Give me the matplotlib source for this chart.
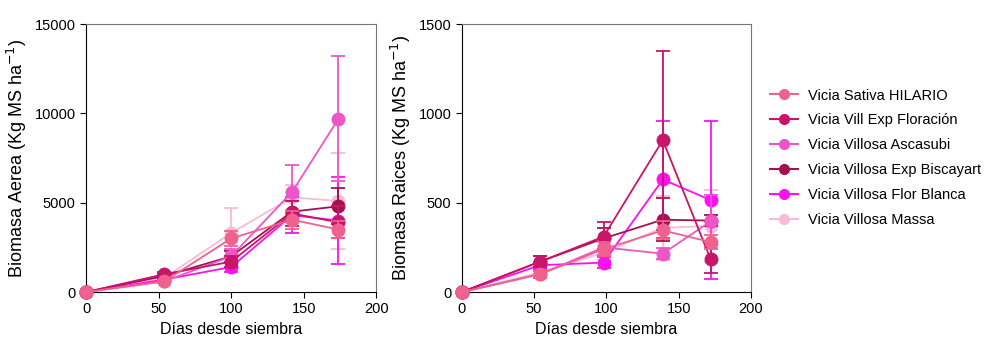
import numpy as np
import matplotlib.pyplot as plt
from matplotlib.lines import Line2D

plt.rcParams['font.family'] = ['Liberation Sans', 'DejaVu Sans']

# Series names and colours
names = ["Vicia Sativa HILARIO", "Vicia Vill Exp Floración", "Vicia Villosa Ascasubi",
         "Vicia Villosa Exp Biscayart", "Vicia Villosa Flor Blanca", "Vicia Villosa Massa"]
colors = ["#F0628E", "#C8156A", "#EE55C8", "#A3124F", "#FF10F0", "#F8BBD8"]

# Biomasa aerea
dias_a = [0, 54, 100, 142, 174]
aerea = [
    [0, 600, 3000, 4050, 3500],
    [0, 1000, 1700, 4400, 3900],
    [0, 600, 2000, 5600, 9700],
    [0, 900, 2000, 4500, 4800],
    [0, 700, 1400, 4300, 4000],
    [0, 800, 3300, 5300, 5100],
]
aerea_err = [
    [0, 100, 400, 500, 500],
    [0, 100, 300, 700, 900],
    [0, 100, 400, 1500, 3500],
    [0, 100, 300, 600, 1000],
    [0, 100, 300, 1000, 2450],
    [0, 150, 1400, 700, 2700],
]

# Biomasa raices
dias_r = [0, 54, 98, 139, 172]
raices = [
    [0, 100, 240, 345, 280],
    [0, 170, 310, 850, 185],
    [0, 100, 250, 215, 395],
    [0, 170, 300, 405, 400],
    [0, 150, 165, 630, 515],
    [0, 110, 220, 360, 370],
]
raices_err = [
    [0, 20, 40, 50, 40],
    [0, 30, 80, 500, 80],
    [0, 20, 40, 30, 150],
    [0, 30, 60, 120, 30],
    [0, 20, 30, 330, 440],
    [0, 20, 40, 180, 200],
]

fig = plt.figure(figsize=(10.04, 3.54), dpi=100)
ax1 = fig.add_axes([0.0857, 0.175, 0.289, 0.757])
ax2 = fig.add_axes([0.460, 0.175, 0.288, 0.757])


def draw(ax, x, ys, errs, ymax, ylabel):
    # first series on top
    for i, (c, y, e) in enumerate(zip(colors, ys, errs)):
        ax.errorbar(x, y, yerr=e, color=c, marker='o', markersize=9, lw=1.3,
                    capsize=5, capthick=1.3, elinewidth=1.3, clip_on=False,
                    zorder=10 - i)
    ax.set_xlim(0, 200)
    ax.set_ylim(0, ymax)
    ax.set_xticks([0, 50, 100, 150, 200])
    ax.set_yticks(np.linspace(0, ymax, 4))
    ax.tick_params(labelsize=10.5, direction='out', length=4)
    ax.set_xlabel("Días desde siembra", fontsize=11.5)
    ax.set_ylabel(ylabel, fontsize=13)
    for s in ['top', 'right']:
        ax.spines[s].set_color('#777777')
        ax.spines[s].set_linewidth(0.8)


draw(ax1, dias_a, aerea, aerea_err, 15000, "Biomasa Aerea (Kg MS ha$^{-1}$)")
draw(ax2, dias_r, raices, raices_err, 1500, "Biomasa Raices (Kg MS ha$^{-1}$)")

handles = [Line2D([], [], color=c, marker='o', markersize=7, lw=1.5) for c in colors]
fig.legend(handles, names, loc='upper left', bbox_to_anchor=(0.754, 0.787),
           frameon=False, fontsize=10.5, handlelength=1.9, handletextpad=0.7,
           labelspacing=0.75)

fig.savefig("out.png", dpi=100)
